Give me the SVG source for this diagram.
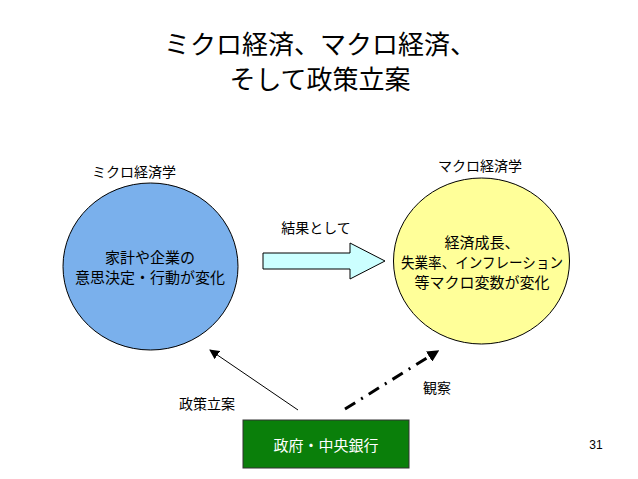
<svg xmlns="http://www.w3.org/2000/svg" width="638" height="479" viewBox="0 0 638 479">
<style>
text{font-family:"Noto Sans CJK JP","Noto Sans CJK SC",sans-serif;fill:#000}
.t{font-size:26px}
.l{font-size:14px}
.c{font-size:15px}
</style>
<defs>
<marker id="ah" markerWidth="10" markerHeight="10" refX="9" refY="5" orient="auto" markerUnits="userSpaceOnUse" viewBox="0 0 10 10">
<path d="M0,0 L10,5 L0,10 Z" fill="#000"/>
</marker>
<marker id="ah2" markerWidth="4" markerHeight="4" refX="3.5" refY="2" orient="auto" viewBox="0 0 4 4">
<path d="M0,0 L4,2 L0,4 Z" fill="#000"/>
</marker>
</defs>
<rect width="638" height="479" fill="#fff"/>
<g id="title">
<text class="t" x="320" y="54" text-anchor="middle">ミクロ経済、マクロ経済、</text>
<text class="t" x="320" y="89" text-anchor="middle">そして政策立案</text>
</g>
<g id="micro">
<text class="l" x="134" y="177" text-anchor="middle">ミクロ経済学</text>
<ellipse cx="150.5" cy="266.5" rx="87.5" ry="83.5" fill="#7ab0ec" stroke="#000" stroke-width="1"/>
<text class="c" x="150" y="263" text-anchor="middle">家計や企業の</text>
<text class="c" x="150" y="283" text-anchor="middle">意思決定・行動が変化</text>
</g>
<g id="macro">
<text class="l" x="480" y="171" text-anchor="middle">マクロ経済学</text>
<ellipse cx="481.5" cy="261" rx="88" ry="83" fill="#ffff99" stroke="#000" stroke-width="1"/>
<text class="c" x="482" y="248" text-anchor="middle">経済成長、</text>
<text class="c" x="482" y="268" text-anchor="middle" textLength="162" lengthAdjust="spacingAndGlyphs">失業率、インフレーション</text>
<text class="c" x="482" y="288" text-anchor="middle">等マクロ変数が変化</text>
</g>
<g id="gov">
<rect x="243" y="420" width="166" height="48" fill="#0a7f0a" stroke="#333" stroke-width="1"/>
<text class="c" x="326" y="451" text-anchor="middle" style="fill:#fff">政府・中央銀行</text>
</g>
<g id="connectors">
<path d="M263,253 L350,253 L350,243 L385,261 L350,279 L350,269 L263,269 Z" fill="#ccffff" stroke="#000" stroke-width="1"/>
<line x1="298" y1="410" x2="210" y2="350" stroke="#000" stroke-width="1" marker-end="url(#ah)"/>
<line x1="345" y1="409" x2="438" y2="351" stroke="#000" stroke-width="3" stroke-dasharray="12,7,2,7" marker-end="url(#ah2)"/>
</g>
<g id="labels">
<text class="l" x="316" y="233" text-anchor="middle">結果として</text>
<text class="l" x="207" y="409" text-anchor="middle">政策立案</text>
<text class="l" x="437" y="393" text-anchor="middle">観察</text>
<text x="596" y="449" text-anchor="middle" style="font-family:'Liberation Sans',sans-serif;font-size:12px">31</text>
</g>
</svg>
